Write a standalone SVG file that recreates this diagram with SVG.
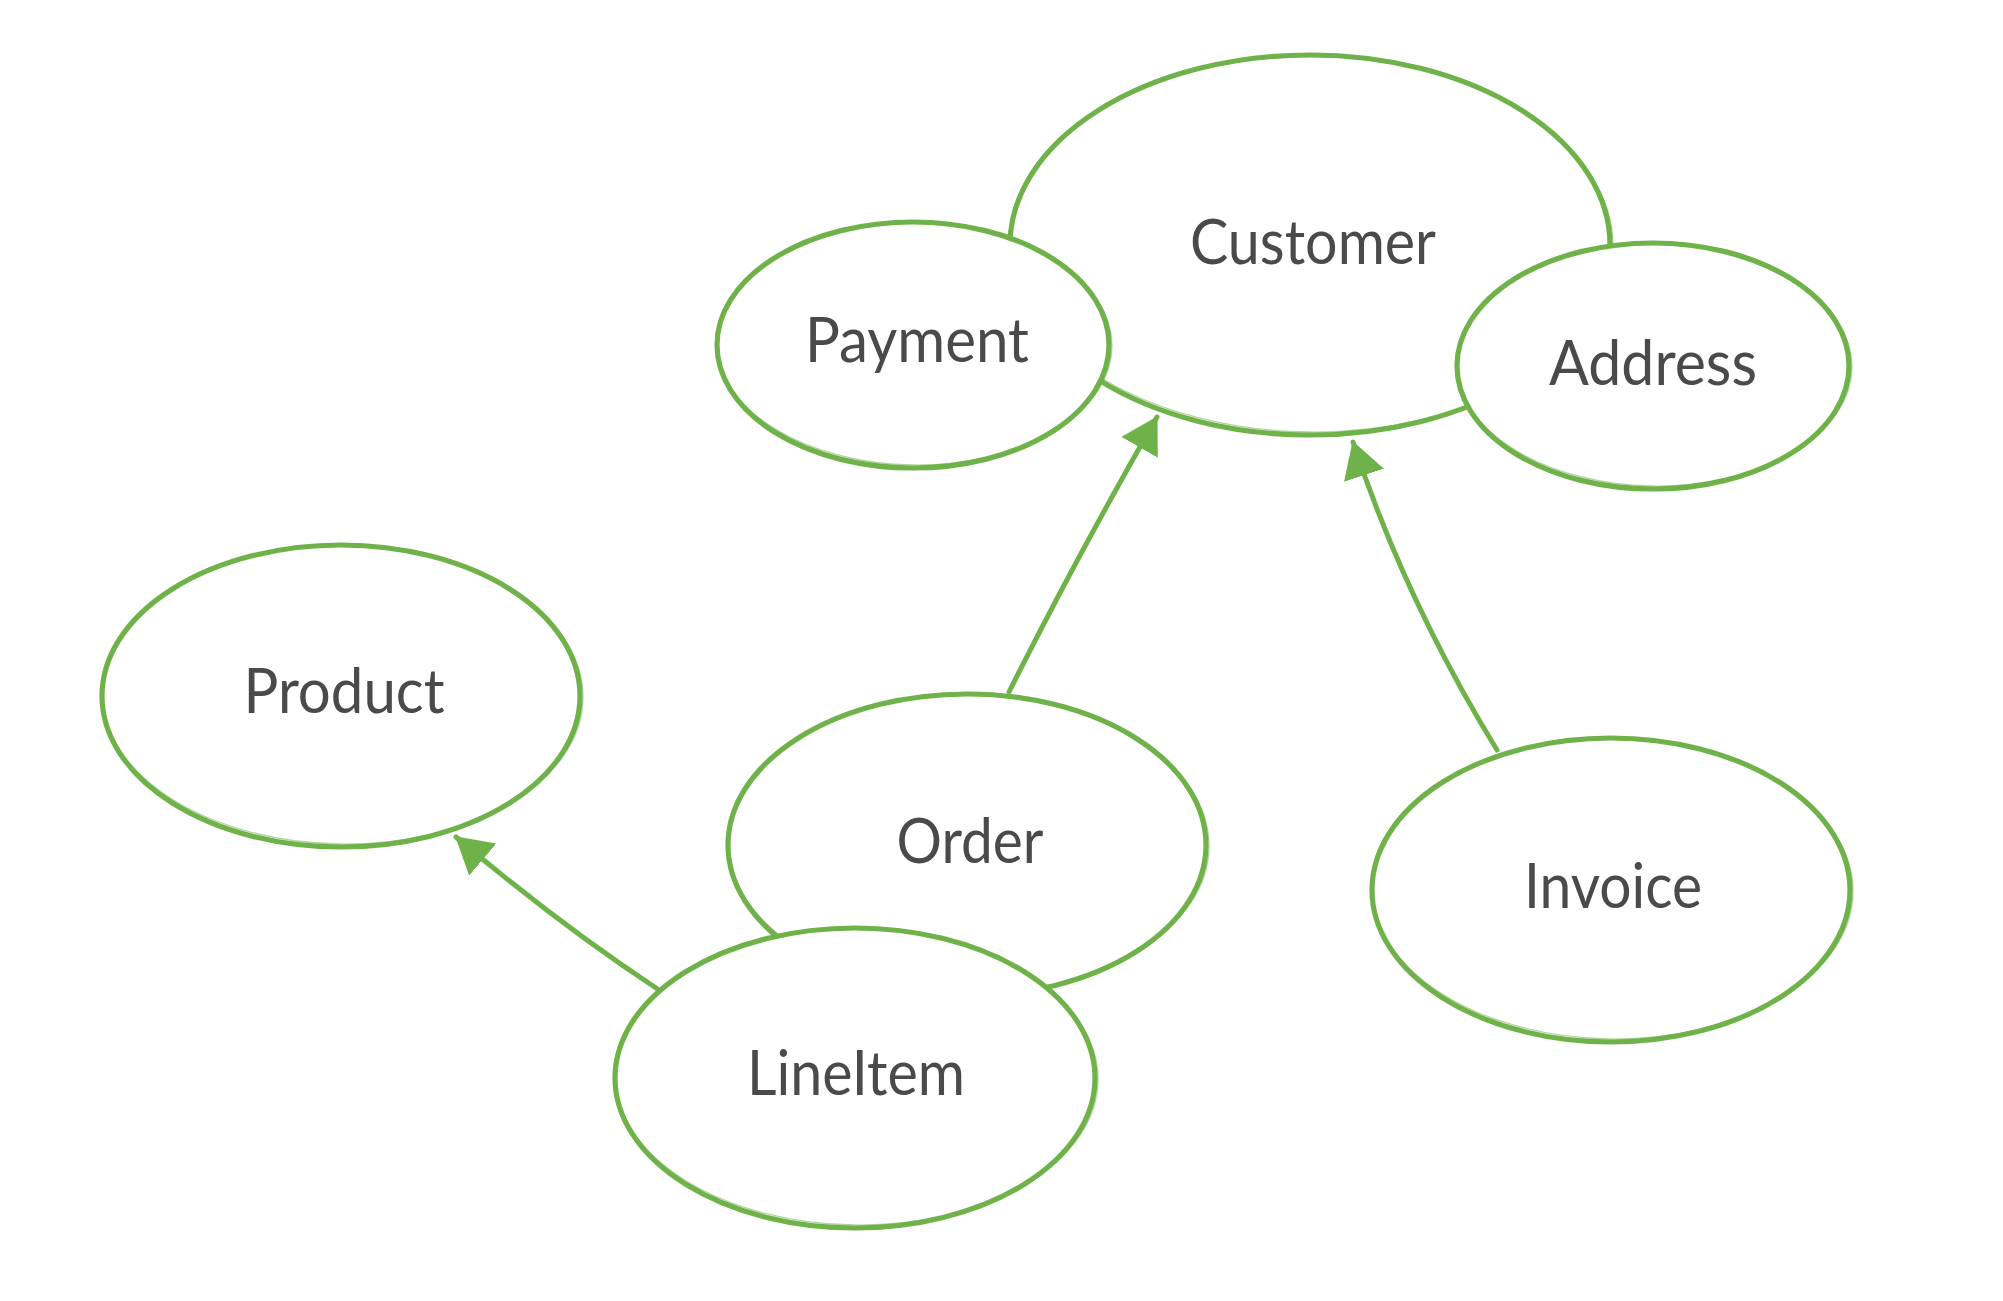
<svg xmlns="http://www.w3.org/2000/svg" width="2003" height="1301" viewBox="0 0 2003 1301">
<style>
.n{fill:#fff;stroke:#70b24a;stroke-width:5.2}
.s{fill:none;stroke:#70b24a;stroke-width:1.3;opacity:.55}
.t{font-family:Lato,"Liberation Sans",sans-serif;font-size:62px;fill:#4a4a4a;text-anchor:middle}
.c{fill:none;stroke:#70b24a;stroke-width:5;stroke-linecap:round}
</style>
<defs>
<marker id="ah" viewBox="0 0 36 42" refX="35" refY="21" markerWidth="36" markerHeight="42" markerUnits="userSpaceOnUse" orient="auto">
<path d="M0,0 L36,21 L0,42 z" fill="#70b24a"/>
</marker>
</defs>
<rect width="2003" height="1301" fill="#fff"/>
<g id="customer">
<ellipse class="n" cx="1310" cy="245" rx="300" ry="190"/>
<ellipse class="s" cx="1311" cy="244" rx="302" ry="188" transform="rotate(0.6 1310 245)"/>
<text class="t" x="1313" y="264" textLength="246" lengthAdjust="spacingAndGlyphs">Customer</text>
</g>
<g id="payment">
<ellipse class="n" cx="913" cy="345" rx="196" ry="123"/>
<ellipse class="s" cx="914" cy="344" rx="198" ry="121" transform="rotate(0.8 913 345)"/>
<text class="t" x="917" y="362" textLength="224" lengthAdjust="spacingAndGlyphs">Payment</text>
</g>
<g id="address">
<ellipse class="n" cx="1653" cy="366" rx="196" ry="123"/>
<ellipse class="s" cx="1654" cy="365" rx="198" ry="121" transform="rotate(0.8 1653 366)"/>
<text class="t" x="1653" y="385" textLength="208" lengthAdjust="spacingAndGlyphs">Address</text>
</g>
<g id="product">
<ellipse class="n" cx="341" cy="696" rx="239" ry="151"/>
<ellipse class="s" cx="342" cy="695" rx="241" ry="149" transform="rotate(0.8 341 696)"/>
<text class="t" x="344" y="713" textLength="201" lengthAdjust="spacingAndGlyphs">Product</text>
</g>
<g id="order">
<ellipse class="n" cx="967" cy="845" rx="239" ry="151"/>
<ellipse class="s" cx="968" cy="844" rx="241" ry="149" transform="rotate(0.8 967 845)"/>
<text class="t" x="970" y="863" textLength="147" lengthAdjust="spacingAndGlyphs">Order</text>
</g>
<g id="lineitem">
<ellipse class="n" cx="855" cy="1078" rx="240" ry="150"/>
<ellipse class="s" cx="856" cy="1077" rx="242" ry="148" transform="rotate(0.8 855 1078)"/>
<text class="t" x="856" y="1095" textLength="218" lengthAdjust="spacingAndGlyphs">LineItem</text>
</g>
<g id="invoice">
<ellipse class="n" cx="1611" cy="890" rx="239" ry="152"/>
<ellipse class="s" cx="1612" cy="889" rx="241" ry="150" transform="rotate(0.8 1611 890)"/>
<text class="t" x="1613" y="908" textLength="178" lengthAdjust="spacingAndGlyphs">Invoice</text>
</g>
<g id="connectors">
<path class="c" d="M659,990 Q560,925 456,837" marker-end="url(#ah)"/>
<path class="c" d="M1009,692 Q1075,560 1157,417" marker-end="url(#ah)"/>
<path class="c" d="M1497,750 Q1405,600 1353,442" marker-end="url(#ah)"/>
</g>
</svg>
